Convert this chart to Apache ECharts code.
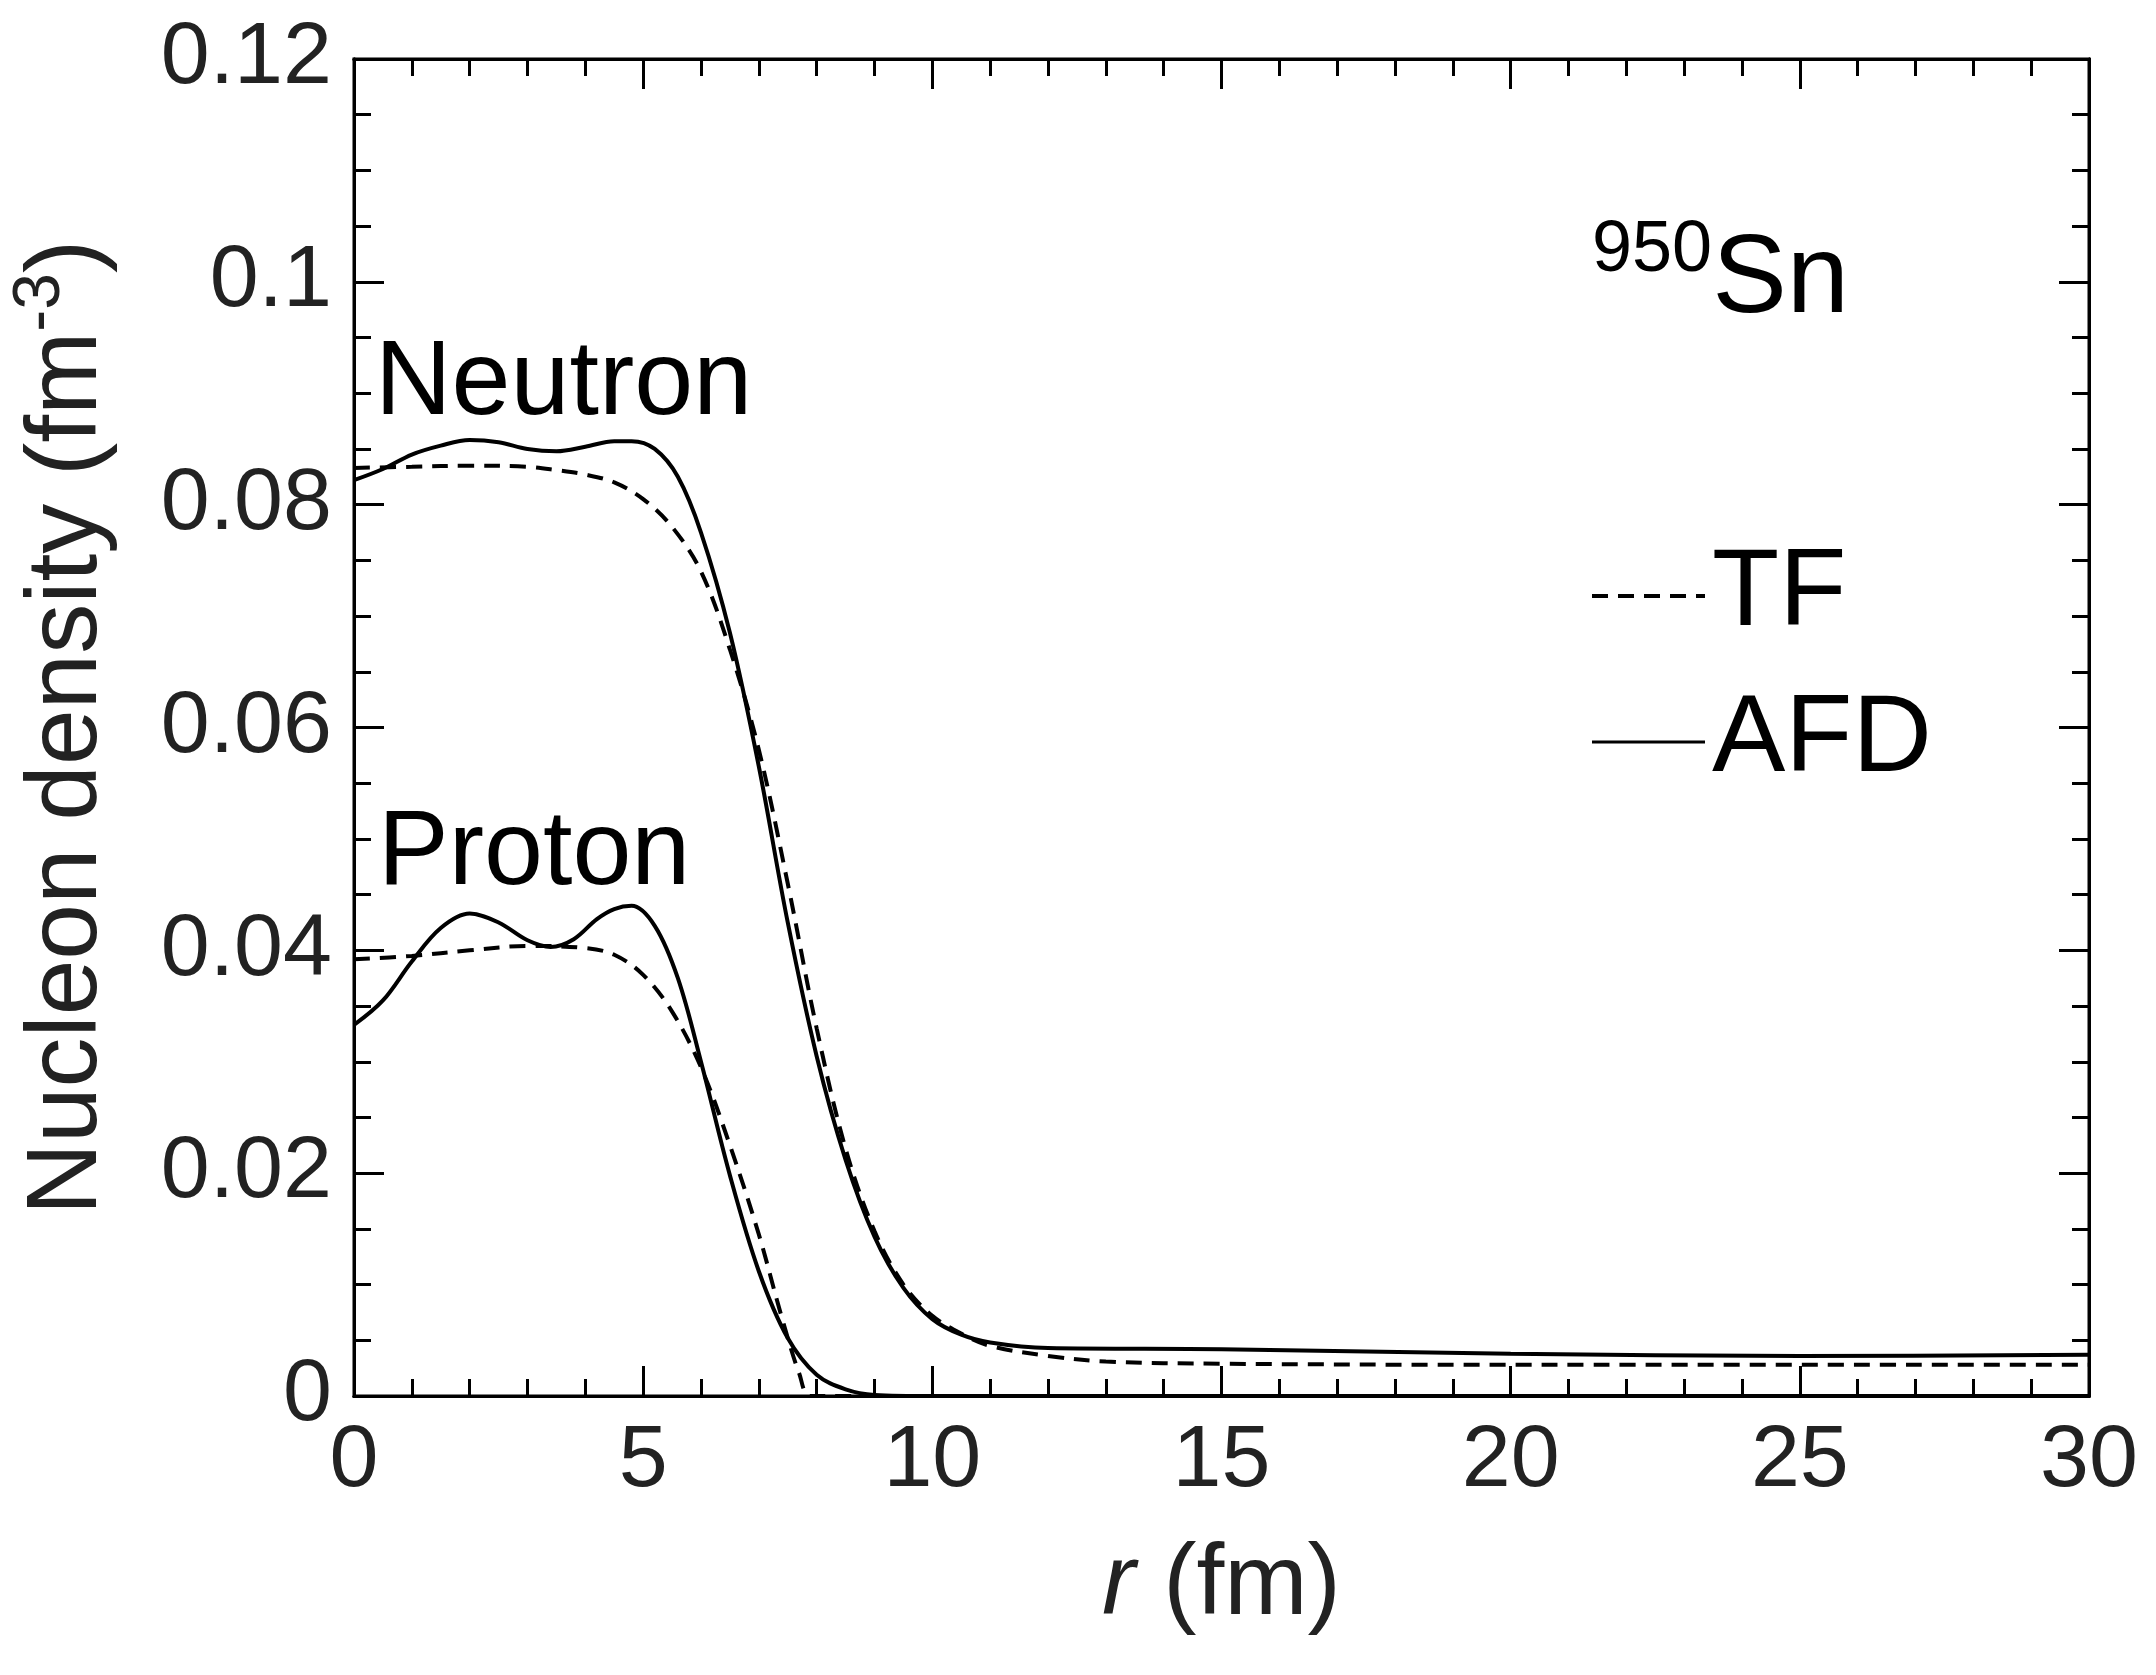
<!DOCTYPE html>
<html>
<head>
<meta charset="utf-8">
<script src="https://cdn.jsdelivr.net/npm/echarts@6/dist/echarts.min.js"></script>
<style>
  html, body { margin: 0; padding: 0; background: #fff; }
  #chart { width: 2156px; height: 1675px; }
</style>
</head>
<body>
<div id="chart"></div>
<script>
// r (fm), density (fm^-3)
const neutronAFD = [[0,0.0822],[0.5,0.0832],[1,0.0845],[1.5,0.0853],[2,0.0858],[2.5,0.0856],[3,0.0850],[3.5,0.0848],[4,0.0852],[4.5,0.0857],[4.8,0.0857],[5.2,0.0850],[5.6,0.0825],[6,0.0775],[6.5,0.0685],[7,0.0565],[7.5,0.0425],[8,0.0305],[8.5,0.0212],[9,0.0143],[9.5,0.0097],[10,0.0069],[10.5,0.0055],[11,0.0048],[12,0.0043],[15,0.0042],[20,0.0038],[25,0.0036],[30,0.0037]];
const neutronTF = [[0,0.0833],[1,0.0834],[2,0.0835],[3,0.0834],[3.5,0.0831],[4,0.0827],[4.5,0.0820],[5,0.0805],[5.5,0.0780],[6,0.0740],[6.5,0.0670],[7,0.0580],[7.5,0.0460],[8,0.0330],[8.5,0.0222],[9,0.0148],[9.5,0.0100],[10,0.0072],[10.5,0.0056],[11,0.0045],[12,0.0036],[13,0.0031],[15,0.0029],[20,0.0028],[30,0.0028]];
const protonAFD = [[0,0.0333],[0.5,0.0355],[1,0.0390],[1.5,0.0420],[2,0.0433],[2.5,0.0425],[3,0.0409],[3.4,0.0403],[3.8,0.0410],[4.2,0.0428],[4.5,0.0437],[4.8,0.0440],[5.2,0.0422],[5.6,0.0375],[6,0.0300],[6.5,0.0198],[7,0.0112],[7.5,0.0052],[8,0.0019],[8.5,0.0006],[9,0.0001],[10,0],[20,0],[30,0]];
const protonTF = [[0,0.0392],[1,0.0395],[2,0.0400],[3,0.0404],[4,0.0402],[4.5,0.0396],[5,0.0378],[5.5,0.0345],[6,0.0295],[6.5,0.0225],[7,0.0145],[7.4,0.0070],[7.7,0.0020],[7.9,0],[10,0],[30,0]];

const xTicks = [0, 5, 10, 15, 20, 25, 30];
const yTicks = [0, 0.02, 0.04, 0.06, 0.08, 0.1, 0.12];

const font = 'Liberation Sans, Arial, sans-serif';
const chart = echarts.init(document.getElementById('chart'));

// one axis per tick size and side, ticks drawn inside
const mkAxis = (dim, position, interval, len, labels) => ({
  type: 'value', position,
  min: dim === 'x' ? 0 : 0, max: dim === 'x' ? 30 : 0.12, interval,
  axisLine: { show: true, onZero: false, lineStyle: { color: '#000', width: 3 } },
  axisTick: { show: true, inside: true, length: len, lineStyle: { color: '#000', width: 3 } },
  splitLine: { show: false },
  axisLabel: labels ? {
    fontSize: 88, color: '#222', fontFamily: font, margin: 22,
    formatter: v => String(+v.toFixed(2))
  } : { show: false }
});

const xAxes = [
  mkAxis('x', 'bottom', 5, 30, true),
  mkAxis('x', 'bottom', 1, 17, false),
  mkAxis('x', 'top', 5, 30, false),
  mkAxis('x', 'top', 1, 17, false)
];
Object.assign(xAxes[0], {
  name: '{i|r} (fm)', nameLocation: 'middle', nameGap: 140,
  nameTextStyle: { fontSize: 100, color: '#222', fontFamily: font,
    rich: { i: { fontSize: 100, fontStyle: 'italic', fontFamily: font, color: '#222' } } }
});
const yAxes = [
  mkAxis('y', 'left', 0.02, 30, true),
  mkAxis('y', 'left', 0.005, 17, false),
  mkAxis('y', 'right', 0.02, 30, false),
  mkAxis('y', 'right', 0.005, 17, false)
];
Object.assign(yAxes[0], {
  name: 'Nucleon density (fm{s|-3})', nameLocation: 'middle', nameGap: 225,
  nameTextStyle: { fontSize: 100, color: '#222', fontFamily: font,
    rich: { s: { fontSize: 66, verticalAlign: 'top', padding: [0, 0, 55, 0], color: '#222', fontFamily: font } } }
});

const line = (data, dashed) => ({
  type: 'line', data, symbol: 'none', smooth: 0.35, xAxisIndex: 0, yAxisIndex: 0,
  lineStyle: { color: '#000', width: 4, type: dashed ? [16, 10] : 'solid' }
});
const dummy = [1, 2, 3].map(i => ({ type: 'line', data: [], xAxisIndex: i, yAxisIndex: i }));

chart.setOption({
  backgroundColor: '#fff',
  animation: false,
  grid: { left: 348, right: 67, top: 59, bottom: 279, show: true, borderColor: '#000', borderWidth: 3 },
  xAxis: xAxes,
  yAxis: yAxes,
  series: [
    line(neutronAFD, false), line(neutronTF, true),
    line(protonAFD, false), line(protonTF, true),
    ...dummy
  ],
  graphic: [
    { type: 'text', left: 375, top: 332, style: { text: 'Neutron', fontSize: 106, fontFamily: font, fill: '#000' } },
    { type: 'text', left: 378, top: 802, style: { text: 'Proton', fontSize: 106, fontFamily: font, fill: '#000' } },
    { type: 'text', left: 1592, top: 215, style: { text: '{s|950}Sn', fontSize: 112, fontFamily: font, fill: '#000',
      rich: { s: { fontSize: 72, verticalAlign: 'top', padding: [0, 0, 60, 0], fontFamily: font, fill: '#000' } } } },
    { type: 'line', shape: { x1: 1592, y1: 596, x2: 1705, y2: 596 }, style: { stroke: '#000', lineWidth: 4, lineDash: [16, 10] } },
    { type: 'text', left: 1712, top: 540, style: { text: 'TF', fontSize: 110, fontFamily: font, fill: '#000' } },
    { type: 'line', shape: { x1: 1592, y1: 742, x2: 1705, y2: 742 }, style: { stroke: '#000', lineWidth: 3 } },
    { type: 'text', left: 1712, top: 686, style: { text: 'AFD', fontSize: 110, fontFamily: font, fill: '#000' } }
  ]
});
</script>
</body>
</html>
